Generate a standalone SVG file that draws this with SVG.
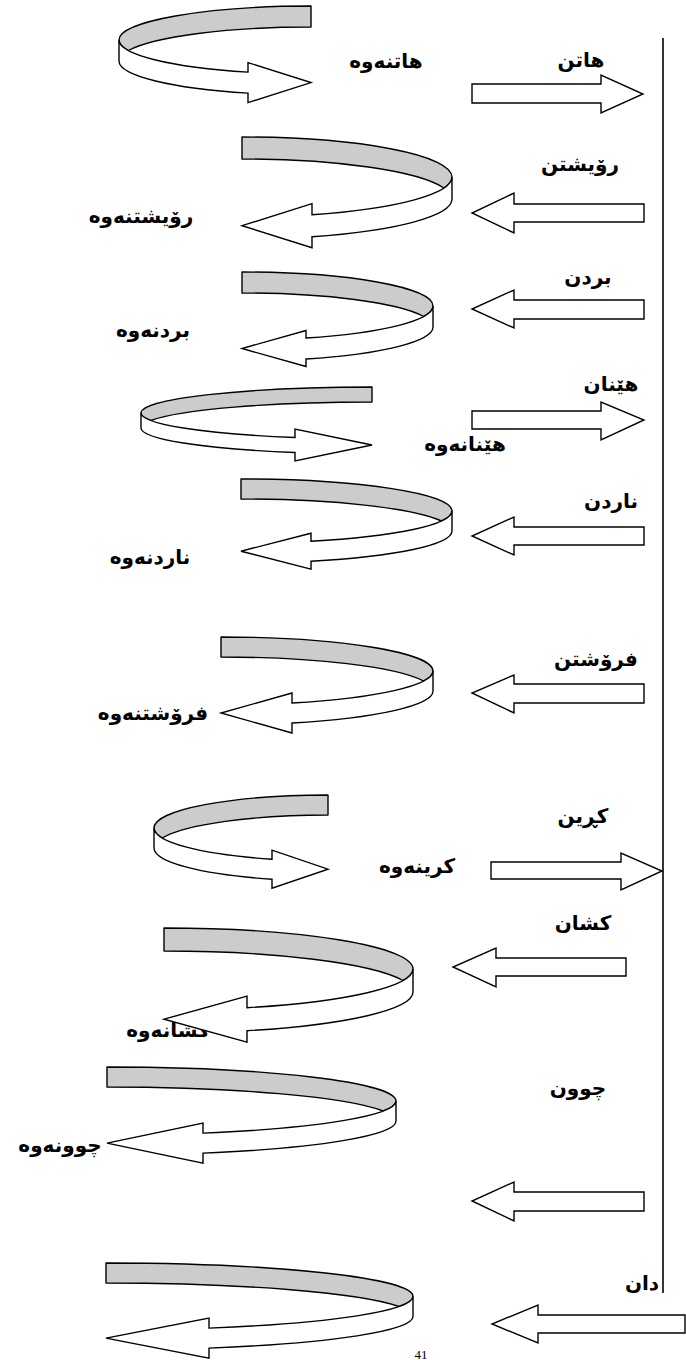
<svg xmlns="http://www.w3.org/2000/svg" width="686" height="1360" viewBox="0 0 686 1360">
<style>
.g{fill:#cccccc;stroke:#000;stroke-width:1.4;stroke-linejoin:round}
.w{fill:#fff;stroke:#000;stroke-width:1.4;stroke-linejoin:miter}
.t{font-family:"DejaVu Sans",sans-serif;font-weight:bold;font-size:20px;text-anchor:middle;fill:#000}
.n{font-family:"Liberation Serif",serif;font-size:13px;text-anchor:middle;fill:#000}
</style>
<rect width="686" height="1360" fill="#fff"/>
<g id="axis"><line x1="663" y1="38" x2="663" y2="1293" stroke="#000" stroke-width="1.6"/></g>
<g id="labels">
<text class="t" x="386" y="68">هاتنەوە</text>
<text class="t" x="581" y="67">هاتن</text>
<text class="t" x="580" y="171">رۆیشتن</text>
<text class="t" x="141" y="223">رۆیشتنەوە</text>
<text class="t" x="588" y="284">بردن</text>
<text class="t" x="153" y="337">بردنەوە</text>
<text class="t" x="611" y="391">هێنان</text>
<text class="t" x="465" y="451">هێنانەوە</text>
<text class="t" x="611" y="508">ناردن</text>
<text class="t" x="150" y="564">ناردنەوە</text>
<text class="t" x="596" y="666">فرۆشتن</text>
<text class="t" x="153" y="720">فرۆشتنەوە</text>
<text class="t" x="583" y="823">كڕین</text>
<text class="t" x="417" y="873">كرینەوە</text>
<text class="t" x="583" y="930">كشان</text>
<text class="t" x="168" y="1037">كشانەوە</text>
<text class="t" x="578" y="1095">چوون</text>
<text class="t" x="60" y="1152">چوونەوە</text>
<text class="t" x="642" y="1290">دان</text>
<text class="n" x="421" y="1359">41</text>
</g>
<g id="loops">
<g id="loop1"><path class="g" d="M311,6 A192,34 0 0 0 119,40 A192,34 0 0 0 128.4,50.5 A192,34 0 0 1 311,27 Z"/><path class="w" d="M119,40 A192,34 0 0 0 248,72.1 L248,62.6 L311,82.6 L248,102.6 L248,93.1 A192,34 0 0 1 119,61 Z"/></g>
<g id="loop2"><path class="g" d="M242,137 A210,40 0 0 1 452,177 A210,40 0 0 1 443.9,188 A210,40 0 0 0 242,159 Z"/><path class="w" d="M452,177 A210,40 0 0 1 312,214.7 L312,203.7 L242,225.7 L312,247.7 L312,236.7 A210,40 0 0 0 452,199 Z"/></g>
<g id="loop3"><path class="g" d="M242,272 A191,34 0 0 1 433,306 A191,34 0 0 1 423.7,316.5 A191,34 0 0 0 242,293 Z"/><path class="w" d="M433,306 A191,34 0 0 1 306,338 L306,330.5 L242,348.5 L306,366.5 L306,359 A191,34 0 0 0 433,327 Z"/></g>
<g id="loop4"><path class="g" d="M372,387 A231,26 0 0 0 141,413 A231,26 0 0 0 150.8,420.5 A231,26 0 0 1 372,402 Z"/><path class="w" d="M141,413 A231,26 0 0 0 295,437.5 L295,429 L372,445 L295,461 L295,452.5 A231,26 0 0 1 141,428 Z"/></g>
<g id="loop5"><path class="g" d="M241,479 A211,32 0 0 1 452,511 A211,32 0 0 1 441.4,521 A211,32 0 0 0 241,499 Z"/><path class="w" d="M452,511 A211,32 0 0 1 311,541.2 L311,533.2 L241,551.2 L311,569.2 L311,561.2 A211,32 0 0 0 452,531 Z"/></g>
<g id="loop6"><path class="g" d="M221,637 A212,34 0 0 1 433,671 A212,34 0 0 1 423.6,681 A212,34 0 0 0 221,657 Z"/><path class="w" d="M433,671 A212,34 0 0 1 292,703 L292,693 L221,713 L292,733 L292,723 A212,34 0 0 0 433,691 Z"/></g>
<g id="loop7"><path class="g" d="M328,795 A174,33 0 0 0 154,828 A174,33 0 0 0 162.2,838 A174,33 0 0 1 328,815 Z"/><path class="w" d="M154,828 A174,33 0 0 0 272,859.2 L272,850.2 L328,869.2 L272,888.2 L272,879.2 A174,33 0 0 1 154,848 Z"/></g>
<g id="loop8"><path class="g" d="M164,928 A249,41 0 0 1 413,969 A249,41 0 0 1 403,980.5 A249,41 0 0 0 164,951 Z"/><path class="w" d="M413,969 A249,41 0 0 1 247,1007.7 L247,996.2 L164,1019.2 L247,1042.2 L247,1030.7 A249,41 0 0 0 413,992 Z"/></g>
<g id="loop9"><path class="g" d="M107,1067 A289,34 0 0 1 396,1101 A289,34 0 0 1 383.2,1111 A289,34 0 0 0 107,1087 Z"/><path class="w" d="M396,1101 A289,34 0 0 1 203,1133.1 L203,1123.1 L107,1143.1 L203,1163.1 L203,1153.1 A289,34 0 0 0 396,1121 Z"/></g>
<g id="loop10"><path class="g" d="M106,1263 A307,33.5 0 0 1 413,1296.5 A307,33.5 0 0 1 399,1306.5 A307,33.5 0 0 0 106,1283 Z"/><path class="w" d="M413,1296.5 A307,33.5 0 0 1 209,1328.1 L209,1318.1 L106,1338.1 L209,1358.1 L209,1348.1 A307,33.5 0 0 0 413,1316.5 Z"/></g>
</g>
<g id="arrows">
<polygon id="a1" class="w" points="472,84 601,84 601,75 643,94 601,113 601,103 472,103"/>
<polygon id="a2" class="w" points="644,204 514,204 514,193 472,213 514,233 514,222 644,222"/>
<polygon id="a3" class="w" points="644,300 514,300 514,290 472,309 514,328 514,319 644,319"/>
<polygon id="a4" class="w" points="472,411 601,411 601,402 644,420 601,440 601,429 472,429"/>
<polygon id="a5" class="w" points="644,527 514,527 514,517 472,536 514,555 514,545 644,545"/>
<polygon id="a6" class="w" points="644,684 514,684 514,675 472,693 514,713 514,703 644,703"/>
<polygon id="a7" class="w" points="491,862 621,862 621,853 662,871 621,890 621,879 491,879"/>
<polygon id="a8" class="w" points="626,958 496,958 496,948 453,967 496,987 496,976 626,976"/>
<polygon id="a9" class="w" points="644,1192 514,1192 514,1182 472,1201 514,1221 514,1211 644,1211"/>
<polygon id="a10" class="w" points="685,1315 538,1315 538,1305 492,1324 538,1343 538,1333 685,1333"/>
</g>
</svg>
